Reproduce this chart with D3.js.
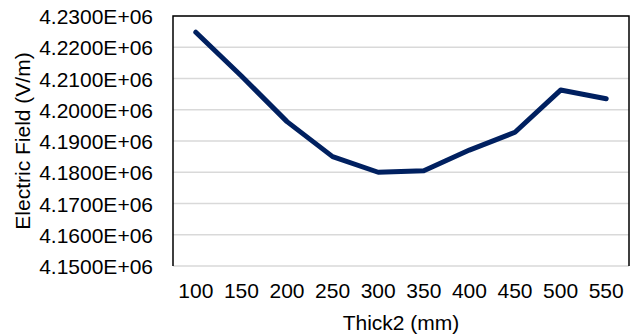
<!DOCTYPE html>
<html>
<head>
<meta charset="utf-8">
<script src="https://cdn.jsdelivr.net/npm/d3@7"></script>
<style>
  body { margin: 0; background: #fff; }
  text { font-family: "Liberation Sans", Arial, sans-serif; fill: #000; }
</style>
</head>
<body>
<div id="chart"></div>
<script>
// data
const thick = [100, 150, 200, 250, 300, 350, 400, 450, 500, 550];
const field = [4.2248e6, 4.2108e6, 4.1962e6, 4.1850e6, 4.1800e6, 4.1805e6, 4.1871e6, 4.1928e6, 4.2063e6, 4.2035e6];
const yTicks = [4.15e6, 4.16e6, 4.17e6, 4.18e6, 4.19e6, 4.20e6, 4.21e6, 4.22e6, 4.23e6];

const W = 633, H = 335;
const m = {top: 16, right: 4, bottom: 69, left: 173};
const w = W - m.left - m.right,
      h = H - m.top - m.bottom;

const svg = d3.select("#chart").append("svg")
    .attr("width", W)
    .attr("height", H);

const g = svg.append("g")
    .attr("transform", "translate(" + m.left + "," + m.top + ")");

const x = d3.scaleBand()
    .domain(thick)
    .range([0, w]);

const y = d3.scaleLinear()
    .domain([4.15e6, 4.23e6])
    .range([h, 0]);

// gridlines
g.append("g")
  .selectAll("line")
  .data(yTicks)
  .join("line")
    .attr("x1", 0)
    .attr("x2", w)
    .attr("y1", d => y(d))
    .attr("y2", d => y(d))
    .attr("stroke", "#d9d9d9")
    .attr("stroke-width", 1.5);

// plot frame (left, top, right)
g.append("path")
    .attr("d", `M0,${h}V0H${w}V${h}`)
    .attr("fill", "none")
    .attr("stroke", "#000")
    .attr("stroke-width", 1.5);

// y axis labels
const fmt = v => (v / 1e6).toFixed(4) + "E+06";
const yAxis = g.append("g")
    .call(d3.axisLeft(y).tickValues(yTicks).tickFormat(fmt).tickSize(0).tickPadding(20));
yAxis.select(".domain").remove();
yAxis.selectAll("text")
    .style("font-family", '"Liberation Sans", Arial, sans-serif')
    .style("font-size", "21px")
    .attr("dy", "0.36em");

// x axis labels
const xAxis = g.append("g")
    .attr("transform", `translate(0,${h})`)
    .call(d3.axisBottom(x).tickSize(0).tickPadding(17));
xAxis.select(".domain").remove();
xAxis.selectAll("text")
    .style("font-family", '"Liberation Sans", Arial, sans-serif')
    .style("font-size", "21px")
    .attr("dy", "0.71em");

// the line
const line = d3.line()
    .x((d, i) => x(thick[i]) + x.bandwidth() / 2)
    .y(d => y(d));

g.append("path")
    .datum(field)
    .attr("fill", "none")
    .attr("stroke", "#002060")
    .attr("stroke-width", 5)
    .attr("stroke-linejoin", "round")
    .attr("stroke-linecap", "round")
    .attr("d", line);

// axis titles
svg.append("text")
    .attr("x", m.left + w / 2)
    .attr("y", 330)
    .attr("text-anchor", "middle")
    .style("font-size", "21px")
    .text("Thick2 (mm)");

svg.append("text")
    .attr("transform", `translate(30,${m.top + h / 2}) rotate(-90)`)
    .attr("text-anchor", "middle")
    .style("font-size", "21px")
    .text("Electric Field (V/m)");
</script>
</body>
</html>
